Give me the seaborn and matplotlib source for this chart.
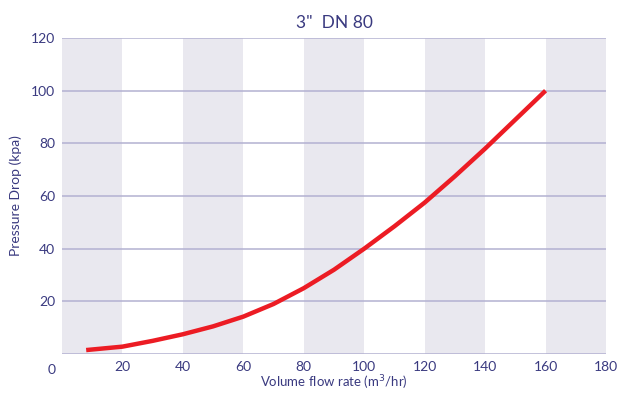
import pandas as pd
import matplotlib.pyplot as plt
import seaborn as sns

# flow rate vs pressure drop
flow = [8, 20, 30, 40, 50, 60, 70, 80, 90, 100, 110, 120, 130, 140, 150, 160]
drop = [1.5, 2.8, 5.0, 7.5, 10.5, 14.2, 19.0, 25.0, 32.0, 40.0, 48.5, 57.5, 67.5, 78.0, 89.0, 100.0]
xticks = [20, 40, 60, 80, 100, 120, 140, 160, 180]
yticks = [20, 40, 60, 80, 100, 120]

df = pd.DataFrame({'flow': flow, 'drop': drop})

sns.set_style('white')
plt.rcParams['font.family'] = ['Lato', 'DejaVu Sans']
txt = '#3a3a80'

fig = plt.figure(figsize=(6.18, 3.93), dpi=100)
ax = fig.add_axes([0.1003, 0.0992, 0.8803, 0.8041])

# shaded vertical bands
for start in range(0, 180, 40):
    ax.axvspan(start, start + 20, color='#e9e8ef', lw=0, zorder=0)
for y in [0] + yticks:
    ax.axhline(y, color='#b3b1d1', lw=1.1, zorder=1)

sns.lineplot(data=df, x='flow', y='drop', color='#ec1c24', lw=3.2, ax=ax, zorder=3,
             solid_capstyle='butt', solid_joinstyle='round')

ax.set_xlim(0, 180)
ax.set_ylim(0, 120)
ax.set_xticks(xticks)
ax.set_yticks(yticks)
ax.tick_params(length=0, labelsize=10, labelcolor=txt, pad=5)
ax.text(-3.3, -3.8, '0', color=txt, fontsize=10, ha='center', va='top')
for s in ax.spines.values():
    s.set_visible(False)

ax.set_xlabel('Volume flow rate (m$^3$/hr)', color=txt, fontsize=9.5, labelpad=0)
ax.set_ylabel('Pressure Drop (kpa)', color=txt, fontsize=10, labelpad=6)
ax.set_title('3"  DN 80', color=txt, fontsize=12.5, pad=7)

fig.savefig('out.png', dpi=100)
